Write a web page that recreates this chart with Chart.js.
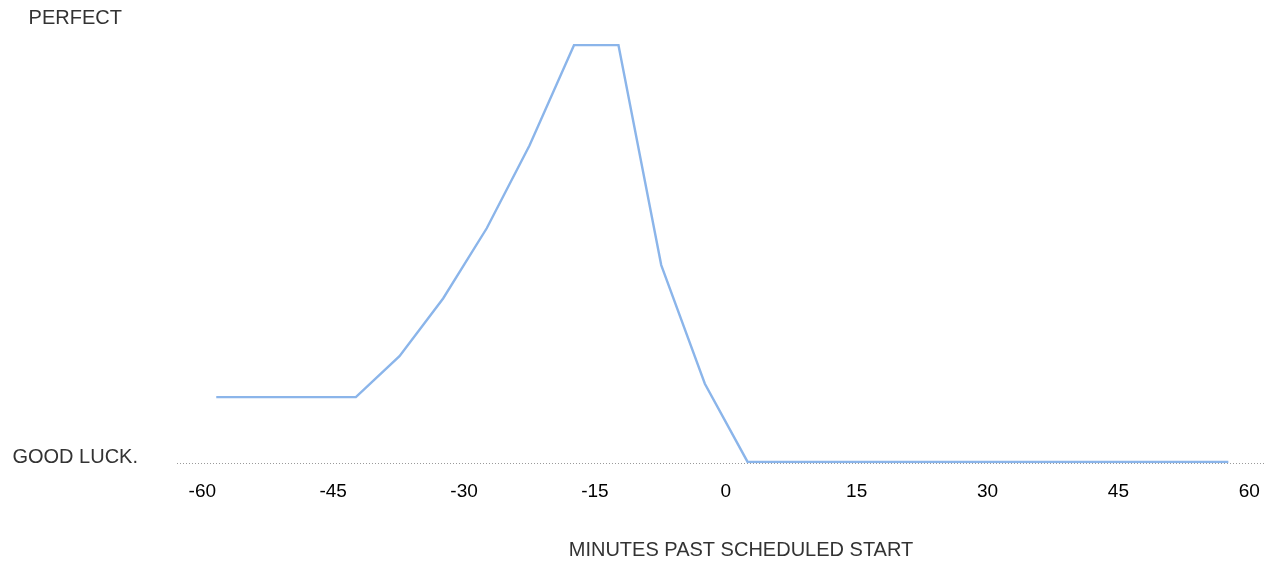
<!DOCTYPE html>
<html>
<head>
<meta charset="utf-8">
<script src="https://cdn.jsdelivr.net/npm/chart.js@4"></script>
<style>
html,body{margin:0;padding:0;background:#fff;}
#wrap{width:1276px;height:564px;}
</style>
</head>
<body>
<div id="wrap"><canvas id="chart" width="1276" height="564"></canvas></div>
<script>

/* Data */

const minutes=[-58.4,-52.4,-47.4,-42.4,-37.4,-32.4,-27.4,-22.5,-17.4,-12.3,-7.4,-2.4,
2.5,7.5,12.5,17.5,22.5,27.5,32.5,37.5,42.5,47.5,52.5,57.6];
const chance=[0.158,0.158,0.158,0.158,0.256,0.394,0.562,0.76,1.0,1.0,0.474,0.19,
0.003,0.003,0.003,0.003,0.003,0.003,0.003,0.003,0.003,0.003,0.003,0.003];

const xTicks=[-60,-45,-30,-15,0,15,30,45,60];
const yTickValues=[0.014,1.065];
const yTickLabels=["GOOD LUCK.","PERFECT"];
const xTitle="MINUTES PAST SCHEDULED START";

const xMin=-62.9;
const xMax=61.8;

const font="'Liberation Sans', Arial, Helvetica, sans-serif";

/* Dotted baseline + axis title */

const decorations={
id:"decorations",
beforeDatasetsDraw(chart){
const ctx=chart.ctx;
const x=chart.scales.x;
const y=chart.scales.y;
const py=Math.round(y.getPixelForValue(0))+0.5;
ctx.save();
ctx.strokeStyle="#9a9a9a";
ctx.lineWidth=1;
ctx.setLineDash([1,2]);
ctx.beginPath();
ctx.moveTo(x.left,py);
ctx.lineTo(x.right,py);
ctx.stroke();
ctx.restore();
},
afterDraw(chart){
const ctx=chart.ctx;
const area=chart.chartArea;
ctx.save();
ctx.fillStyle="#333";
ctx.font="20px "+font;
ctx.textAlign="center";
ctx.textBaseline="middle";
ctx.fillText(xTitle,(area.left+area.right)/2+20,550);
ctx.restore();
}
};

const ctx=document.getElementById("chart");

new Chart(ctx,{
type:"line",
data:{
datasets:[{
data:minutes.map((m,i)=>({x:m,y:chance[i]})),
borderColor:"#8bb5ea",
borderWidth:2.4,
pointRadius:0,
tension:0,
fill:false
}]
},
options:{
responsive:false,
animation:false,
layout:{padding:{left:11,right:11,top:18,bottom:44}},
plugins:{legend:{display:false},tooltip:{enabled:false}},
scales:{
x:{
type:"linear",
min:xMin,
max:xMax,
grid:{display:false,drawTicks:false},
border:{display:false},
afterBuildTicks:(s)=>{s.ticks=xTicks.map(v=>({value:v}));},
afterFit:(s)=>{s.paddingLeft=0;s.paddingRight=0;},
ticks:{
padding:17,
color:"#000",
font:{family:font,size:19},
maxRotation:0,
autoSkip:false
}
},
y:{
min:0,
max:1.065,
grid:{display:false,drawTicks:false},
border:{display:false},
afterBuildTicks:(s)=>{s.ticks=yTickValues.map(v=>({value:v}));},
afterFit:(s)=>{s.width=166;s.paddingTop=0;s.paddingBottom=0;},
ticks:{
padding:39,
crossAlign:"center",
color:"#333",
font:{family:font,size:20},
callback:(v,i)=>yTickLabels[i]
}
}
}
},
plugins:[decorations]
});

</script>
</body>
</html>
